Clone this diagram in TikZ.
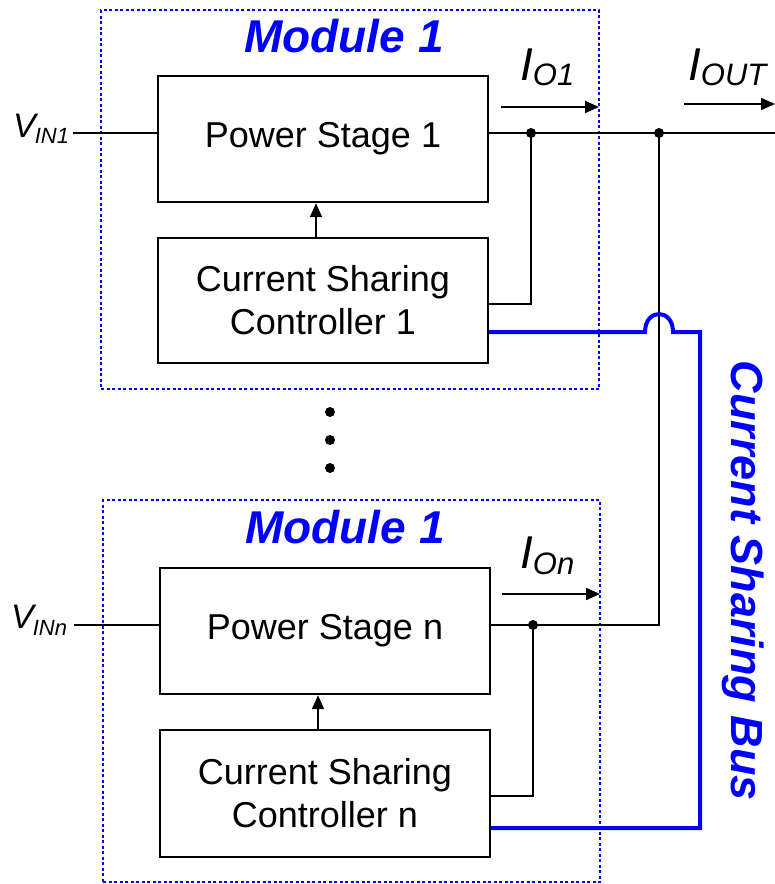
\documentclass[tikz,border=0pt]{standalone}
\usepackage{fontspec}
\setmainfont{Liberation Sans}
\usetikzlibrary{arrows.meta}
\begin{document}
\begin{tikzpicture}[x=1pt,y=-1pt,
 blk/.style={draw, line width=2.4pt, minimum width=330pt, align=center, font=\fontsize{36}{43}\selectfont, inner sep=0pt},
 modbox/.style={draw=blue, line width=2pt, dash pattern=on 3pt off 2.5pt, inner sep=0pt},
 wire/.style={line width=2pt},
 bus/.style={draw=blue, line width=4pt},
 arr/.style={line width=2pt, -{Triangle[length=14pt,width=12pt]}},
 title/.style={text=blue, font=\fontsize{46}{46}\selectfont\bfseries\itshape, anchor=base, inner sep=0pt},
 lbl/.style={anchor=base west, inner sep=0pt},
 dot/.style={circle, fill, inner sep=0pt, minimum size=10pt}]
\useasboundingbox (0,0) rectangle (775,884);

% module frames
\node[modbox, minimum width=498pt, minimum height=379pt] (m1) at (350,199.5) {};
\node[modbox, minimum width=497pt, minimum height=382pt] (mn) at (351.5,691) {};
\node[title] (t1) at (344,52) {Module 1};
\node[title] (tn) at (345,543) {Module 1};

% blocks
\node[blk, minimum height=126pt] (ps1) at (323,139) {Power Stage 1};
\node[blk, minimum height=125pt] (cs1) at (323,300.5) {Current Sharing\\Controller 1};
\node[blk, minimum height=126pt] (psn) at (325,631) {Power Stage n};
\node[blk, minimum height=127pt] (csn) at (325,793.5) {Current Sharing\\Controller n};

\draw[arr] ([xshift=-7pt]cs1.north) -- ([xshift=-7pt]ps1.south);
\draw[arr] ([xshift=-7pt]csn.north) -- ([xshift=-7pt]psn.south);

% inputs
\node[lbl, font=\fontsize{34}{34}\selectfont\itshape] (vin1) at (13,137) {V\kern-1pt\raisebox{-6pt}{\fontsize{22}{22}\selectfont IN1}};
\node[lbl, font=\fontsize{34}{34}\selectfont\itshape] (vinn) at (11,628) {V\kern-1pt\raisebox{-7pt}{\fontsize{22}{22}\selectfont INn}};
\coordinate (vin1e) at (73,133);
\coordinate (vinne) at (74,625);
\draw[wire] (vin1e) -- (ps1.west |- vin1e);
\draw[wire] (vinne) -- (psn.west |- vinne);

% outputs
\coordinate (j1) at (531,133);
\coordinate (j2) at (659,133);
\coordinate (outend) at (775,133);
\coordinate (j3) at (533,625);
\coordinate (c3) at (659,625);
\draw[wire] (ps1.east |- j1) -- (outend);
\draw[wire] (psn.east |- j3) -- (c3) -- (j2);
\draw[wire] (cs1.east |- 0,304) -| (j1);
\draw[wire] (csn.east |- 0,796) -| (j3);
\node[dot] at (j1) {};
\node[dot] at (j2) {};
\node[dot] at (j3) {};

% current sharing bus
\coordinate (h1) at (645,332);
\coordinate (h2) at (673,332);
\coordinate (b1) at (700,332);
\coordinate (b2) at (700,828);
\draw[bus] (cs1.east |- h1) -- (h1) .. controls (645,308) and (673,308) .. (h2) -- (b1) -- (b2) -- (csn.east |- b2);
\node[rotate=-90, anchor=base, inner sep=0pt, text=blue, font=\fontsize{45}{45}\selectfont\bfseries\itshape] (busl) at (731,581) {Current Sharing Bus};

% current arrows and labels
\coordinate (a1s) at (501,107);
\coordinate (a1e) at (599,107);
\coordinate (a2s) at (684,104);
\coordinate (a2e) at (775,104);
\coordinate (a3s) at (502,594);
\coordinate (a3e) at (600,594);
\draw[arr] (a1s) -- (a1e);
\draw[arr] (a2s) -- (a2e);
\draw[arr] (a3s) -- (a3e);
\node[lbl, font=\fontsize{46}{46}\selectfont\itshape] (io1) at (520,80) {I\raisebox{-5pt}{\fontsize{31}{31}\selectfont O1}};
\node[lbl, font=\fontsize{46}{46}\selectfont\itshape] (iout) at (688,80) {I\raisebox{-5pt}{\fontsize{31}{31}\selectfont OUT}};
\node[lbl, font=\fontsize{46}{46}\selectfont\itshape] (ion) at (520,568) {I\raisebox{-6pt}{\fontsize{31}{31}\selectfont On}};

% ellipsis dots
\node[dot] (d1) at (330,412) {};
\node[dot] (d2) at (330,440) {};
\node[dot] (d3) at (330,468) {};
\end{tikzpicture}
\end{document}
